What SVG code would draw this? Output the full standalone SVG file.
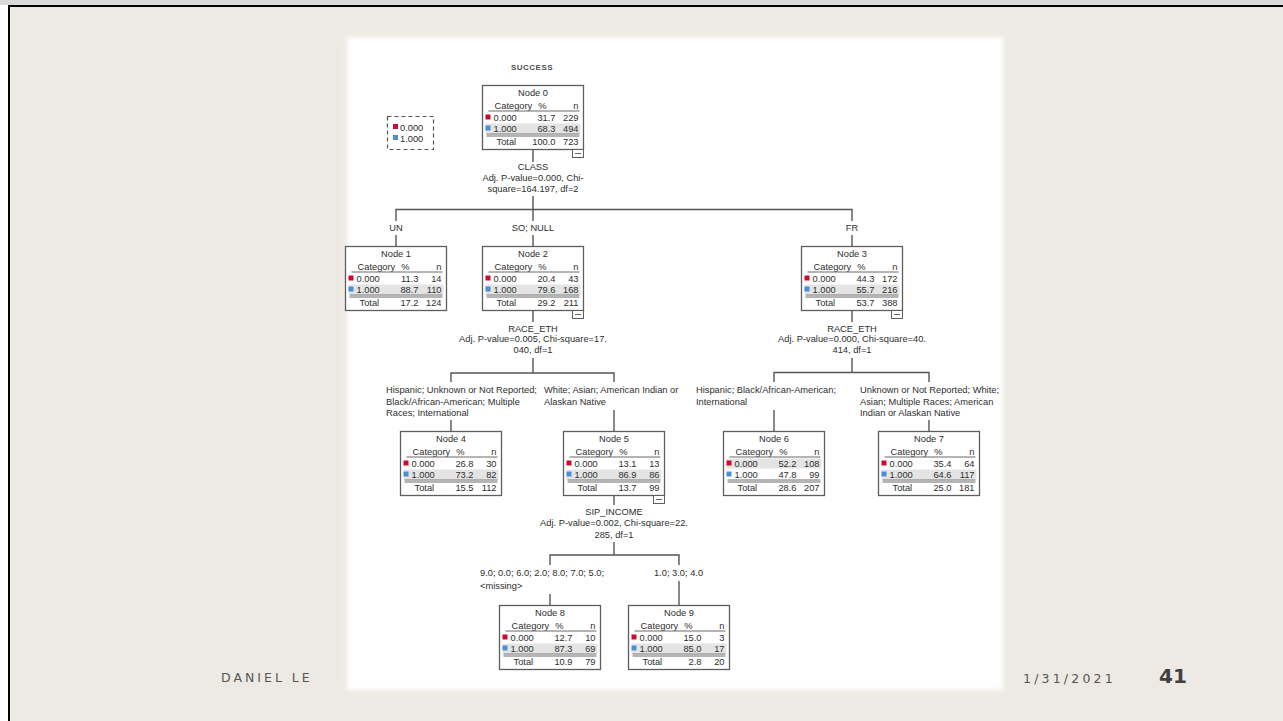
<svg xmlns="http://www.w3.org/2000/svg" width="1283" height="721" viewBox="0 0 1283 721">
<defs>
<filter id="soft" x="-5%" y="-5%" width="110%" height="110%"><feGaussianBlur stdDeviation="2.5"/></filter>
<style>
text{font-family:"Liberation Sans",Arial,sans-serif;font-size:9.3px;fill:#2e2e2e}
.m{text-anchor:middle}
.e{text-anchor:end}
.box{fill:#fff;stroke:#5e5e5e;stroke-width:1.3}
.hl{fill:#e4e4e4}
.rule{stroke:#6a6a6a;stroke-width:1;fill:none}
.red{fill:#cc0a32}
.blue{fill:#4a8fd6}
.conn line,.conn path{stroke:#555;stroke-width:1.4;fill:none}
.mini{fill:#fff;stroke:#5e5e5e;stroke-width:1}
.foot{font-family:"DejaVu Sans",Verdana,sans-serif;font-size:12.5px;fill:#555;letter-spacing:3px}
.num{font-family:"DejaVu Sans",Verdana,sans-serif;font-size:20px;font-weight:bold;fill:#404040}
</style>
</defs>
<rect x="0" y="0" width="1283" height="721" fill="#fff"/>
<rect x="0" y="0" width="1283" height="5" fill="#d9d9d9"/>
<rect x="9" y="6" width="1290" height="730" fill="#edeae3" stroke="#000" stroke-width="2"/>
<rect x="347" y="37" width="656" height="653" fill="#fff" filter="url(#soft)"/>
<rect x="350" y="40" width="650" height="647" fill="#fff"/>

<text x="532" y="70" class="m" style="font-size:8px;font-weight:bold;letter-spacing:0.5px;fill:#505050">SUCCESS</text>

<g id="legend">
<rect x="387.5" y="116.5" width="46" height="33" fill="none" stroke="#555" stroke-width="1.2" stroke-dasharray="4,3"/>
<rect x="393" y="124" width="5" height="5" class="red"/>
<text x="400" y="130.5">0.000</text>
<rect x="393" y="135" width="5" height="5" class="blue"/>
<text x="400" y="141.5">1.000</text>
</g>

<g id="connectors" class="conn">
<line x1="533" y1="150" x2="533" y2="162"/>
<line x1="533" y1="196" x2="533" y2="209.5"/>
<path d="M396,221 V209.5 H852 V221"/>
<line x1="533" y1="209.5" x2="533" y2="221"/>
<line x1="396" y1="235" x2="396" y2="246"/>
<line x1="533" y1="235" x2="533" y2="246"/>
<line x1="852" y1="235" x2="852" y2="246"/>

<line x1="533" y1="310" x2="533" y2="322"/>
<line x1="533" y1="358" x2="533" y2="373"/>
<path d="M451,382 V373 H614 V382"/>
<line x1="451" y1="420" x2="451" y2="431"/>
<line x1="614" y1="410" x2="614" y2="431"/>

<line x1="852" y1="310" x2="852" y2="322"/>
<line x1="852" y1="358" x2="852" y2="372.5"/>
<path d="M774,382 V372.5 H929 V382"/>
<line x1="774" y1="410" x2="774" y2="431"/>
<line x1="929" y1="420" x2="929" y2="431"/>

<line x1="614" y1="495" x2="614" y2="505"/>
<line x1="614" y1="542" x2="614" y2="555"/>
<path d="M550,565 V555 H679 V565"/>
<line x1="550" y1="594" x2="550" y2="605"/>
<line x1="679" y1="581" x2="679" y2="605"/>
</g>

<g id="labels">
<text x="533" y="170" class="m">CLASS</text>
<text x="533" y="181" class="m">Adj. P-value=0.000, Chi-</text>
<text x="533" y="192" class="m">square=164.197, df=2</text>
<text x="396" y="231" class="m">UN</text>
<text x="533" y="231" class="m">SO; NULL</text>
<text x="852" y="231" class="m">FR</text>

<text x="533" y="332" class="m">RACE_ETH</text>
<text x="533" y="342" class="m">Adj. P-value=0.005, Chi-square=17.</text>
<text x="533" y="353" class="m">040, df=1</text>
<text x="386" y="393">Hispanic; Unknown or Not Reported;</text>
<text x="386" y="405">Black/African-American; Multiple</text>
<text x="386" y="416">Races; International</text>
<text x="544" y="393">White; Asian; American Indian or</text>
<text x="544" y="405">Alaskan Native</text>

<text x="852" y="332" class="m">RACE_ETH</text>
<text x="852" y="342" class="m">Adj. P-value=0.000, Chi-square=40.</text>
<text x="852" y="353" class="m">414, df=1</text>
<text x="696" y="393">Hispanic; Black/African-American;</text>
<text x="696" y="405">International</text>
<text x="860" y="393">Unknown or Not Reported; White;</text>
<text x="860" y="405">Asian; Multiple Races; American</text>
<text x="860" y="416">Indian or Alaskan Native</text>

<text x="614" y="515" class="m">SIP_INCOME</text>
<text x="614" y="526" class="m">Adj. P-value=0.002, Chi-square=22.</text>
<text x="614" y="538" class="m">285, df=1</text>
<text x="480" y="576">9.0; 0.0; 6.0; 2.0; 8.0; 7.0; 5.0;</text>
<text x="480" y="589">&lt;missing&gt;</text>
<text x="654" y="576">1.0; 3.0; 4.0</text>
</g>

<g id="node0" transform="translate(482.5,85.5)">
<rect width="101" height="64" class="box"/>
<rect x="3" y="38" width="95" height="10" class="hl"/>
<text x="50.5" y="10.5" class="m">Node 0</text>
<text x="12" y="23.5">Category</text><text x="60" y="23.5" class="m">%</text><text x="96" y="23.5" class="e">n</text>
<line x1="6" y1="25.5" x2="97" y2="25.5" class="rule"/>
<rect x="3" y="29" width="5" height="5" class="red"/><text x="11" y="35.5">0.000</text><text x="73" y="35.5" class="e">31.7</text><text x="96" y="35.5" class="e">229</text>
<rect x="3" y="40" width="5" height="5" class="blue"/><text x="11" y="46.5">1.000</text><text x="73" y="46.5" class="e">68.3</text><text x="96" y="46.5" class="e">494</text>
<line x1="4" y1="48.5" x2="97" y2="48.5" class="rule"/><line x1="4" y1="50.5" x2="97" y2="50.5" class="rule"/>
<text x="14" y="59">Total</text><text x="73" y="59" class="e">100.0</text><text x="96" y="59" class="e">723</text>
<rect x="90" y="64" width="11" height="8" class="mini"/><line x1="92.5" y1="68" x2="98.5" y2="68" class="rule"/>
</g>

<g id="node1" transform="translate(345.5,246.5)">
<rect width="101" height="64" class="box"/>
<rect x="3" y="38" width="95" height="10" class="hl"/>
<text x="50.5" y="10.5" class="m">Node 1</text>
<text x="12" y="23.5">Category</text><text x="60" y="23.5" class="m">%</text><text x="96" y="23.5" class="e">n</text>
<line x1="6" y1="25.5" x2="97" y2="25.5" class="rule"/>
<rect x="3" y="29" width="5" height="5" class="red"/><text x="11" y="35.5">0.000</text><text x="73" y="35.5" class="e">11.3</text><text x="96" y="35.5" class="e">14</text>
<rect x="3" y="40" width="5" height="5" class="blue"/><text x="11" y="46.5">1.000</text><text x="73" y="46.5" class="e">88.7</text><text x="96" y="46.5" class="e">110</text>
<line x1="4" y1="48.5" x2="97" y2="48.5" class="rule"/><line x1="4" y1="50.5" x2="97" y2="50.5" class="rule"/>
<text x="14" y="59">Total</text><text x="73" y="59" class="e">17.2</text><text x="96" y="59" class="e">124</text>
</g>

<g id="node2" transform="translate(482.5,246.5)">
<rect width="101" height="64" class="box"/>
<rect x="3" y="38" width="95" height="10" class="hl"/>
<text x="50.5" y="10.5" class="m">Node 2</text>
<text x="12" y="23.5">Category</text><text x="60" y="23.5" class="m">%</text><text x="96" y="23.5" class="e">n</text>
<line x1="6" y1="25.5" x2="97" y2="25.5" class="rule"/>
<rect x="3" y="29" width="5" height="5" class="red"/><text x="11" y="35.5">0.000</text><text x="73" y="35.5" class="e">20.4</text><text x="96" y="35.5" class="e">43</text>
<rect x="3" y="40" width="5" height="5" class="blue"/><text x="11" y="46.5">1.000</text><text x="73" y="46.5" class="e">79.6</text><text x="96" y="46.5" class="e">168</text>
<line x1="4" y1="48.5" x2="97" y2="48.5" class="rule"/><line x1="4" y1="50.5" x2="97" y2="50.5" class="rule"/>
<text x="14" y="59">Total</text><text x="73" y="59" class="e">29.2</text><text x="96" y="59" class="e">211</text>
<rect x="90" y="64" width="11" height="8" class="mini"/><line x1="92.5" y1="68" x2="98.5" y2="68" class="rule"/>
</g>

<g id="node3" transform="translate(801.5,246.5)">
<rect width="101" height="64" class="box"/>
<rect x="3" y="38" width="95" height="10" class="hl"/>
<text x="50.5" y="10.5" class="m">Node 3</text>
<text x="12" y="23.5">Category</text><text x="60" y="23.5" class="m">%</text><text x="96" y="23.5" class="e">n</text>
<line x1="6" y1="25.5" x2="97" y2="25.5" class="rule"/>
<rect x="3" y="29" width="5" height="5" class="red"/><text x="11" y="35.5">0.000</text><text x="73" y="35.5" class="e">44.3</text><text x="96" y="35.5" class="e">172</text>
<rect x="3" y="40" width="5" height="5" class="blue"/><text x="11" y="46.5">1.000</text><text x="73" y="46.5" class="e">55.7</text><text x="96" y="46.5" class="e">216</text>
<line x1="4" y1="48.5" x2="97" y2="48.5" class="rule"/><line x1="4" y1="50.5" x2="97" y2="50.5" class="rule"/>
<text x="14" y="59">Total</text><text x="73" y="59" class="e">53.7</text><text x="96" y="59" class="e">388</text>
<rect x="90" y="64" width="11" height="8" class="mini"/><line x1="92.5" y1="68" x2="98.5" y2="68" class="rule"/>
</g>

<g id="node4" transform="translate(400.5,431.5)">
<rect width="101" height="64" class="box"/>
<rect x="3" y="38" width="95" height="10" class="hl"/>
<text x="50.5" y="10.5" class="m">Node 4</text>
<text x="12" y="23.5">Category</text><text x="60" y="23.5" class="m">%</text><text x="96" y="23.5" class="e">n</text>
<line x1="6" y1="25.5" x2="97" y2="25.5" class="rule"/>
<rect x="3" y="29" width="5" height="5" class="red"/><text x="11" y="35.5">0.000</text><text x="73" y="35.5" class="e">26.8</text><text x="96" y="35.5" class="e">30</text>
<rect x="3" y="40" width="5" height="5" class="blue"/><text x="11" y="46.5">1.000</text><text x="73" y="46.5" class="e">73.2</text><text x="96" y="46.5" class="e">82</text>
<line x1="4" y1="48.5" x2="97" y2="48.5" class="rule"/><line x1="4" y1="50.5" x2="97" y2="50.5" class="rule"/>
<text x="14" y="59">Total</text><text x="73" y="59" class="e">15.5</text><text x="96" y="59" class="e">112</text>
</g>

<g id="node5" transform="translate(563.5,431.5)">
<rect width="101" height="64" class="box"/>
<rect x="3" y="38" width="95" height="10" class="hl"/>
<text x="50.5" y="10.5" class="m">Node 5</text>
<text x="12" y="23.5">Category</text><text x="60" y="23.5" class="m">%</text><text x="96" y="23.5" class="e">n</text>
<line x1="6" y1="25.5" x2="97" y2="25.5" class="rule"/>
<rect x="3" y="29" width="5" height="5" class="red"/><text x="11" y="35.5">0.000</text><text x="73" y="35.5" class="e">13.1</text><text x="96" y="35.5" class="e">13</text>
<rect x="3" y="40" width="5" height="5" class="blue"/><text x="11" y="46.5">1.000</text><text x="73" y="46.5" class="e">86.9</text><text x="96" y="46.5" class="e">86</text>
<line x1="4" y1="48.5" x2="97" y2="48.5" class="rule"/><line x1="4" y1="50.5" x2="97" y2="50.5" class="rule"/>
<text x="14" y="59">Total</text><text x="73" y="59" class="e">13.7</text><text x="96" y="59" class="e">99</text>
<rect x="90" y="64" width="11" height="8" class="mini"/><line x1="92.5" y1="68" x2="98.5" y2="68" class="rule"/>
</g>

<g id="node6" transform="translate(723.5,431.5)">
<rect width="101" height="64" class="box"/>
<rect x="3" y="27" width="95" height="10" class="hl"/>
<text x="50.5" y="10.5" class="m">Node 6</text>
<text x="12" y="23.5">Category</text><text x="60" y="23.5" class="m">%</text><text x="96" y="23.5" class="e">n</text>
<line x1="6" y1="25.5" x2="97" y2="25.5" class="rule"/>
<rect x="3" y="29" width="5" height="5" class="red"/><text x="11" y="35.5">0.000</text><text x="73" y="35.5" class="e">52.2</text><text x="96" y="35.5" class="e">108</text>
<rect x="3" y="40" width="5" height="5" class="blue"/><text x="11" y="46.5">1.000</text><text x="73" y="46.5" class="e">47.8</text><text x="96" y="46.5" class="e">99</text>
<line x1="4" y1="48.5" x2="97" y2="48.5" class="rule"/><line x1="4" y1="50.5" x2="97" y2="50.5" class="rule"/>
<text x="14" y="59">Total</text><text x="73" y="59" class="e">28.6</text><text x="96" y="59" class="e">207</text>
</g>

<g id="node7" transform="translate(878.5,431.5)">
<rect width="101" height="64" class="box"/>
<rect x="3" y="38" width="95" height="10" class="hl"/>
<text x="50.5" y="10.5" class="m">Node 7</text>
<text x="12" y="23.5">Category</text><text x="60" y="23.5" class="m">%</text><text x="96" y="23.5" class="e">n</text>
<line x1="6" y1="25.5" x2="97" y2="25.5" class="rule"/>
<rect x="3" y="29" width="5" height="5" class="red"/><text x="11" y="35.5">0.000</text><text x="73" y="35.5" class="e">35.4</text><text x="96" y="35.5" class="e">64</text>
<rect x="3" y="40" width="5" height="5" class="blue"/><text x="11" y="46.5">1.000</text><text x="73" y="46.5" class="e">64.6</text><text x="96" y="46.5" class="e">117</text>
<line x1="4" y1="48.5" x2="97" y2="48.5" class="rule"/><line x1="4" y1="50.5" x2="97" y2="50.5" class="rule"/>
<text x="14" y="59">Total</text><text x="73" y="59" class="e">25.0</text><text x="96" y="59" class="e">181</text>
</g>

<g id="node8" transform="translate(499.5,605.5)">
<rect width="101" height="64" class="box"/>
<rect x="3" y="38" width="95" height="10" class="hl"/>
<text x="50.5" y="10.5" class="m">Node 8</text>
<text x="12" y="23.5">Category</text><text x="60" y="23.5" class="m">%</text><text x="96" y="23.5" class="e">n</text>
<line x1="6" y1="25.5" x2="97" y2="25.5" class="rule"/>
<rect x="3" y="29" width="5" height="5" class="red"/><text x="11" y="35.5">0.000</text><text x="73" y="35.5" class="e">12.7</text><text x="96" y="35.5" class="e">10</text>
<rect x="3" y="40" width="5" height="5" class="blue"/><text x="11" y="46.5">1.000</text><text x="73" y="46.5" class="e">87.3</text><text x="96" y="46.5" class="e">69</text>
<line x1="4" y1="48.5" x2="97" y2="48.5" class="rule"/><line x1="4" y1="50.5" x2="97" y2="50.5" class="rule"/>
<text x="14" y="59">Total</text><text x="73" y="59" class="e">10.9</text><text x="96" y="59" class="e">79</text>
</g>

<g id="node9" transform="translate(628.5,605.5)">
<rect width="101" height="64" class="box"/>
<rect x="3" y="38" width="95" height="10" class="hl"/>
<text x="50.5" y="10.5" class="m">Node 9</text>
<text x="12" y="23.5">Category</text><text x="60" y="23.5" class="m">%</text><text x="96" y="23.5" class="e">n</text>
<line x1="6" y1="25.5" x2="97" y2="25.5" class="rule"/>
<rect x="3" y="29" width="5" height="5" class="red"/><text x="11" y="35.5">0.000</text><text x="73" y="35.5" class="e">15.0</text><text x="96" y="35.5" class="e">3</text>
<rect x="3" y="40" width="5" height="5" class="blue"/><text x="11" y="46.5">1.000</text><text x="73" y="46.5" class="e">85.0</text><text x="96" y="46.5" class="e">17</text>
<line x1="4" y1="48.5" x2="97" y2="48.5" class="rule"/><line x1="4" y1="50.5" x2="97" y2="50.5" class="rule"/>
<text x="14" y="59">Total</text><text x="73" y="59" class="e">2.8</text><text x="96" y="59" class="e">20</text>
</g>

<text x="221" y="682" class="foot">DANIEL LE</text>
<text x="1023" y="683" class="foot" style="letter-spacing:3.2px">1/31/2021</text>
<text x="1159" y="683" class="num">41</text>
</svg>
